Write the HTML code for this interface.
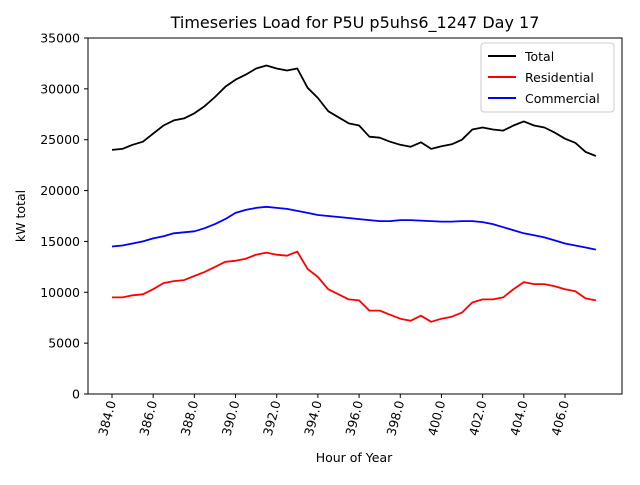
<!DOCTYPE html>
<html><head><meta charset="utf-8"><style>body{margin:0;background:#fff}svg{font-family:"DejaVu Sans","Liberation Sans",sans-serif}</style></head>
<body>
<svg id="chart" width="640" height="480" xmlns="http://www.w3.org/2000/svg">
<rect width="640" height="480" fill="#fff"/>
<text x="355" y="28" font-size="16" text-anchor="middle">Timeseries Load for P5U p5uhs6_1247  Day 17</text>
<g id="axes"></g>
<g id="series"></g>
<rect x="88" y="38" width="534" height="356" fill="none" stroke="#000" stroke-width="1"/>
<text x="354" y="462" font-size="12.5" text-anchor="middle">Hour of Year</text>
<text transform="translate(25,216) rotate(-90)" font-size="12.5" text-anchor="middle">kW total</text>
<g>
<rect x="481" y="43" width="133" height="69" fill="#fff" stroke="#ccc" rx="3"/>
<g><line x1="488" y1="56" x2="516" y2="56" stroke="#000" stroke-width="2"/><text x="525" y="61" font-size="12.5">Total</text></g>
<g><line x1="488" y1="77" x2="516" y2="77" stroke="red" stroke-width="2"/><text x="525" y="82" font-size="12.5">Residential</text></g>
<g><line x1="488" y1="98" x2="516" y2="98" stroke="blue" stroke-width="2"/><text x="525" y="103" font-size="12.5">Commercial</text></g>
</g>
</svg>
<script>
const hourStart = 384, hourStep = 0.5;
const commercial = [14500,14600,14800,15000,15300,15500,15800,15900,16000,16300,16700,17200,17800,18100,18300,18400,18300,18200,18000,17800,17600,17500,17400,17300,17200,17100,17000,17000,17100,17100,17050,17000,16950,16950,17000,17000,16900,16700,16400,16100,15800,15600,15400,15100,14800,14600,14400,14200];
const residential = [9500,9500,9700,9800,10300,10900,11100,11200,11600,12000,12500,13000,13100,13300,13700,13900,13700,13600,14000,12300,11500,10300,9800,9300,9200,8200,8200,7800,7400,7200,7700,7100,7400,7600,8000,9000,9300,9300,9500,10300,11000,10800,10800,10600,10300,10100,9400,9200];
const total = residential.map((v,i)=>v+commercial[i]);
const xTicks = [384,386,388,390,392,394,396,398,400,402,404,406];
const yTicks = [0,5000,10000,15000,20000,25000,30000,35000];
const NS="http://www.w3.org/2000/svg";
const xs = h => 112 + (h-384)*(565-112)/22;
const ys = v => 394 - v*356/35000;
const axes=document.getElementById('axes'), series=document.getElementById('series');
function mk(t,a,p){const e=document.createElementNS(NS,t);for(const k in a)e.setAttribute(k,a[k]);p.appendChild(e);return e;}
xTicks.forEach(t=>{
  const x=xs(t);
  const l=mk('line',{x1:x,y1:394,x2:x,y2:398,stroke:'#000'},axes);
  
  
  const tx=mk('text',{x:x+4,y:402,'font-size':12.5,'text-anchor':'end',transform:`rotate(-75 ${x+4} 402)`},axes);
  tx.textContent=t.toFixed(1);
  
  
});
yTicks.forEach(t=>{
  const y=ys(t);
  const l=mk('line',{x1:84,y1:y,x2:88,y2:y,stroke:'#000'},axes);
  
  
  const tx=mk('text',{x:80,y:y+4.5,'font-size':12.5,'text-anchor':'end'},axes);
  tx.textContent=t;
  
  
});
[[total,'#000','total-line'],[residential,'red','residential-line'],[commercial,'blue','commercial-line']].forEach(([d,c,n])=>{
  const pts=d.map((v,i)=>xs(hourStart+i*hourStep).toFixed(1)+','+ys(v).toFixed(1)).join(' ');
  const p=mk('polyline',{points:pts,fill:'none',stroke:c,'stroke-width':1.8,'stroke-linejoin':'round'},series);
  
  
});
</script>
</body></html>
